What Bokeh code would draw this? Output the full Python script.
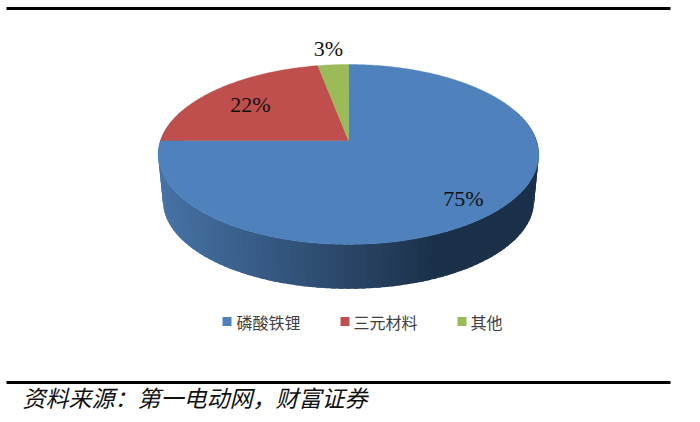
import numpy as np
from bokeh.plotting import figure
from bokeh.models import Range1d
from bokeh.core.properties import value
from bokeh.embed import file_html
from bokeh.resources import INLINE

categories = ["磷酸铁锂", "三元材料", "其他"]
shares = [75, 22, 3]
labels = ["75%", "22%", "3%"]
colors = ["#4F81BD", "#BE4F4C", "#9BBB59"]
source_text = "资料来源：第一电动网，财富证券"

W, H = 684, 420
p = figure(width=W, height=H, output_backend="svg", toolbar_location=None,
           x_axis_type=None, y_axis_type=None,
           x_range=Range1d(0, W), y_range=Range1d(H, 0),
           min_border=0, outline_line_color=None, background_fill_color="white")
p.grid.visible = False


# projection of the tilted disc: theta is clockwise from 12 o'clock
CX, CY, A, B, K = 348.0, 140.0, 188.0, 87.8, 0.155
DEPTH, SHRINK = 47.0, 0.975


def rim(theta, drop=0.0, scale=1.0):
    u, v = np.sin(theta), np.cos(theta)
    d = 1 + K * v
    return CX + scale * A * u / d, CY + drop - scale * B * v / d


def mix(c1, c2, t):
    return "#%02x%02x%02x" % tuple(int(round(a + (b - a) * t)) for a, b in zip(c1, c2))


# side wall, shaded left to right
LIGHT, DARK = (0x47, 0x73, 0xA6), (0x1B, 0x30, 0x49)
edges = np.radians(np.linspace(70, 290, 111))
side_x, side_y, side_c = [], [], []
for a, b in zip(edges[:-1], edges[1:]):
    ts = np.array([a - 0.012, b + 0.012])
    x1, y1 = rim(ts)
    x2, y2 = rim(ts, DEPTH, SHRINK)
    xs = np.concatenate([x1, x2[::-1]])
    ys = np.concatenate([y1, y2[::-1]])
    side_x.append(xs.tolist())
    side_y.append(ys.tolist())
    t = min(max((xs.mean() - 158) / (435 - 158), 0), 1)
    side_c.append(mix(LIGHT, DARK, t))
p.patches(side_x, side_y, fill_color=side_c, line_color=None)

# top face: one wedge per share, clockwise from the top
ends = np.cumsum(shares) / np.sum(shares) * 2 * np.pi
starts = np.concatenate([[0], ends[:-1]])
for s, e, c in zip(starts, ends, colors):
    th = np.linspace(s, e, max(int((e - s) * 60), 8))
    x, y = rim(th)
    p.patch(np.concatenate([[CX], x]).tolist(), np.concatenate([[CY], y]).tolist(),
            fill_color=c, line_color=c, line_width=0.4)

# data labels
p.text([463, 250, 328], [198, 104, 48], text=labels,
       text_font=value("Liberation Serif"), text_font_size="22px",
       text_color="#111111", text_align="center", text_baseline="middle")

# legend
p.rect([226.5, 344.5, 461.5], [321, 321, 321], width=9, height=9,
       fill_color=colors, line_color=None)
p.text([236, 353, 470], [321, 321, 321], text=categories,
       text_font=value("Noto Sans CJK SC"), text_font_size="16px",
       text_color="#404040", text_align="left", text_baseline="middle")

# rules
p.segment([6, 6], [8, 382], [670, 670], [8, 382], line_color="#000000", line_width=3)

# source
p.text([22], [396], text=[source_text],
       text_font=value("Noto Sans CJK SC"), text_font_size="23px",
       text_font_style="italic", text_color="#111111",
       text_align="left", text_baseline="middle")

open("out.html", "w").write(file_html(p, INLINE))
